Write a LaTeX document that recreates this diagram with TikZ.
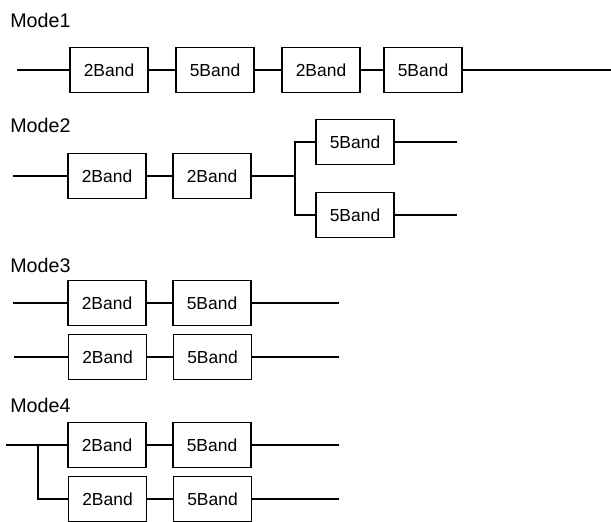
\documentclass[tikz,border=0pt]{standalone}
\usepackage{fontspec}
\setmainfont{Liberation Sans}
\begin{document}
\begin{tikzpicture}[x=0.025cm, y=-0.025cm,
		band/.style={draw, line width=1.1pt, minimum width=1.95cm, minimum height=1.125cm, inner sep=0pt, font=\fontsize{12.4}{14}\selectfont},
		wire/.style={line width=1.1pt},
		modetext/.style={anchor=west, inner sep=0pt, font=\fontsize{14}{16}\selectfont}]
		\useasboundingbox (0,0) rectangle (611,521);
		\clip (0,0) rectangle (611,521);

		% Mode1
		\node[modetext] (t1) at(10, 20){Mode1};
		\node[band] (m1a) at(109, 70){2Band};
		\node[band] (m1b) at(215, 70){5Band};
		\node[band] (m1c) at(321, 70){2Band};
		\node[band] (m1d) at(423, 70){5Band};
		\coordinate (s1) at(17, 70);
		\coordinate (e1) at(611, 70);
			\draw[wire] (s1) to (m1a);
			\draw[wire] (m1a) to (m1b);
			\draw[wire] (m1b) to (m1c);
			\draw[wire] (m1c) to (m1d);
			\draw[wire] (m1d) to (e1);

		% Mode2
		\node[modetext] (t2) at(10, 125){Mode2};
		\node[band] (m2a) at(107, 176){2Band};
		\node[band] (m2b) at(212, 176){2Band};
		\node[band] (m2c) at(355, 142){5Band};
		\node[band] (m2d) at(355, 215){5Band};
		\coordinate (s2) at(13, 176);
		\coordinate (j2) at(295, 176);
		\coordinate (e2c) at(457, 142);
		\coordinate (e2d) at(457, 215);
			\draw[wire] (s2) to (m2a);
			\draw[wire] (m2a) to (m2b);
			\draw[wire] (m2b) to (j2);
			\draw[wire] (m2c) -| (j2) |- (m2d);
			\draw[wire] (m2c) to (e2c);
			\draw[wire] (m2d) to (e2d);

		% Mode3
		\node[modetext] (t3) at(10, 265){Mode3};
		\node[band] (m3a) at(107, 303){2Band};
		\node[band] (m3b) at(212, 303){5Band};
		\node[band] (m3c) at(107.5, 357){2Band};
		\node[band] (m3d) at(212.5, 357){5Band};
		\coordinate (s3a) at(13, 303);
		\coordinate (e3a) at(339, 303);
		\coordinate (s3c) at(14, 357);
		\coordinate (e3c) at(339, 357);
			\draw[wire] (s3a) to (m3a);
			\draw[wire] (m3a) to (m3b);
			\draw[wire] (m3b) to (e3a);
			\draw[wire] (s3c) to (m3c);
			\draw[wire] (m3c) to (m3d);
			\draw[wire] (m3d) to (e3c);

		% Mode4
		\node[modetext] (t4) at(10, 405){Mode4};
		\node[band] (m4a) at(107, 445){2Band};
		\node[band] (m4b) at(212, 445){5Band};
		\node[band] (m4c) at(107.5, 499){2Band};
		\node[band] (m4d) at(212.5, 499){5Band};
		\coordinate (s4) at(6, 445);
		\coordinate (j4) at(38, 445);
		\coordinate (e4a) at(339, 445);
		\coordinate (e4c) at(339, 499);
			\draw[wire] (s4) to (m4a);
			\draw[wire] (j4) |- (m4c);
			\draw[wire] (m4a) to (m4b);
			\draw[wire] (m4b) to (e4a);
			\draw[wire] (m4c) to (m4d);
			\draw[wire] (m4d) to (e4c);
	\end{tikzpicture}
\end{document}
